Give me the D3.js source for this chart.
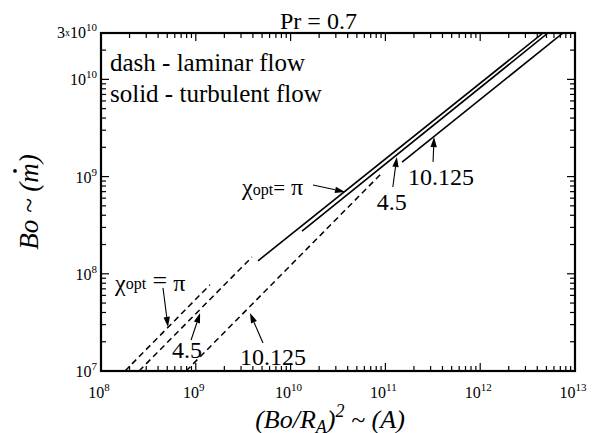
<!DOCTYPE html>
<html>
<head>
<meta charset="utf-8">
<script src="https://cdn.jsdelivr.net/npm/d3@7"></script>
<style>
  body { margin: 0; background: #fff; }
  svg { display: block; }
</style>
</head>
<body>
<div id="chart"></div>
<script>
//svg size
const margin = { top: 33, right: 19, bottom: 62, left: 101 };
const width = 594;
const height = 433;
const innerWidth = width - margin.left - margin.right;
const innerHeight = height - margin.top - margin.bottom;
const FONT = "Liberation Serif";

//laminar (dashed) lines, [A, m] end points
const laminarPi = [[1.79e8, 1e7], [1.41e9, 7.7e7]];
const laminar45 = [[2.52e8, 1e7], [3.92e9, 1.49e8]];
const laminar10 = [[7.9e8, 1e7], [9.2e10, 1.09e9]];

//turbulent (solid) lines
const turbulentPi = [[4.53e9, 1.36e8], [4.6e12, 3e10]];
const turbulent45 = [[1.32e10, 2.75e8], [5.19e12, 3e10]];
const turbulent10 = [[1.5e11, 1.41e9], [7.47e12, 3e10]];

//axis domains and tick labels
const xDomain = [1e8, 1e13];
const yDomain = [1e7, 3e10];
const xTickExp = [8, 9, 10, 11, 12, 13];
const yTickExp = [7, 8, 9, 10];

//arrow tips on the lines
const noteTips = [
  [3.75e10, 6.95e8], //chi top
  [1.32e11, 1.59e9], //4.5 top
  [3.26e11, 2.55e9], //10.125 top
  [5.09e8, 2.84e7], //chi bottom
  [1.11e9, 3.95e7], //4.5 bottom
  [3.73e9, 3.95e7], //10.125 bottom
];
const noteLabels = ["chi", "4.5", "10.125", "chi2", "4.5", "10.125"];

const svg = d3
    .select("#chart")
    .append("svg")
    .attr("width", width)
    .attr("height", height);

const g = svg
    .append("g")
    .attr("transform", `translate(${margin.left},${margin.top})`);

const x = d3.scaleLog().domain(xDomain).range([0, innerWidth]);
const y = d3.scaleLog().domain(yDomain).range([innerHeight, 0]);

//text helper, font set on each element
const addText = (parent, size) =>
  parent.append("text").attr("font-family", FONT).attr("font-size", size).attr("fill", "#000");

//clip for data lines
svg.append("defs")
    .append("clipPath")
    .attr("id", "clip")
    .append("rect")
    .attr("width", innerWidth)
    .attr("height", innerHeight);

const line = d3
    .line()
    .x((d) => x(d[0]))
    .y((d) => y(d[1]));

const gLines = g.append("g").attr("clip-path", "url(#clip)");

gLines
    .selectAll("path.lam")
    .data([laminarPi, laminar45, laminar10])
    .join("path")
    .attr("class", "lam")
    .attr("d", line)
    .attr("fill", "none")
    .attr("stroke", "#000")
    .attr("stroke-width", 1.5)
    .attr("stroke-dasharray", "6,4");

gLines
    .selectAll("path.turb")
    .data([turbulentPi, turbulent45, turbulent10])
    .join("path")
    .attr("class", "turb")
    .attr("d", line)
    .attr("fill", "none")
    .attr("stroke", "#000")
    .attr("stroke-width", 1.6);

//log ticks (major at decades, minor at 2..9)
function logTicks([lo, hi]) {
  const out = [];
  for (let e = Math.floor(Math.log10(lo)); e <= Math.ceil(Math.log10(hi)); e++) {
    for (let k = 1; k < 10; k++) {
      const v = k * Math.pow(10, e);
      if (v >= lo * 0.999 && v <= hi * 1.001) out.push({ v, major: k === 1 });
    }
  }
  return out;
}
const majorLen = 8;
const minorLen = 5;
const tickLen = (d) => (d.major ? majorLen : minorLen);

const gTicks = g.append("g").attr("stroke", "#000").attr("stroke-width", 1.2);
const xt = logTicks(xDomain);
const yt = logTicks(yDomain);

gTicks.selectAll("line.xb").data(xt).join("line").attr("class", "xb")
    .attr("x1", (d) => x(d.v)).attr("x2", (d) => x(d.v))
    .attr("y1", innerHeight).attr("y2", (d) => innerHeight - tickLen(d));
gTicks.selectAll("line.xt").data(xt).join("line").attr("class", "xt")
    .attr("x1", (d) => x(d.v)).attr("x2", (d) => x(d.v))
    .attr("y1", 0).attr("y2", (d) => tickLen(d));
gTicks.selectAll("line.yl").data(yt).join("line").attr("class", "yl")
    .attr("y1", (d) => y(d.v)).attr("y2", (d) => y(d.v))
    .attr("x1", 0).attr("x2", (d) => tickLen(d));
gTicks.selectAll("line.yr").data(yt).join("line").attr("class", "yr")
    .attr("y1", (d) => y(d.v)).attr("y2", (d) => y(d.v))
    .attr("x1", innerWidth).attr("x2", (d) => innerWidth - tickLen(d));

//frame
g.append("rect")
    .attr("width", innerWidth)
    .attr("height", innerHeight)
    .attr("fill", "none")
    .attr("stroke", "#000")
    .attr("stroke-width", 2.2);

//tick labels
xTickExp.forEach((e) => {
  const t = addText(g, 16)
      .attr("x", x(Math.pow(10, e)) - 2)
      .attr("y", innerHeight + 27)
      .attr("text-anchor", "middle");
  t.append("tspan").text("10");
  t.append("tspan").attr("font-size", 11).attr("dy", -7).text(e);
});

yTickExp.forEach((e) => {
  const t = addText(g, 16)
      .attr("x", -4)
      .attr("y", y(Math.pow(10, e)) + 6)
      .attr("text-anchor", "end");
  t.append("tspan").text("10");
  t.append("tspan").attr("font-size", 11).attr("dy", -7).text(e);
});
{
  const t = addText(g, 16)
      .attr("x", -4)
      .attr("y", y(yDomain[1]) + 5)
      .attr("text-anchor", "end");
  t.append("tspan").text("3");
  t.append("tspan").attr("font-size", 10).attr("dy", -2).text("x");
  t.append("tspan").attr("dy", 2).text("10");
  t.append("tspan").attr("font-size", 11).attr("dy", -7).text("10");
}

//title and legend text
addText(svg, 24)
    .attr("x", 280)
    .attr("y", 29)
    .text("Pr = 0.7");

addText(g, 25)
    .attr("x", 9)
    .attr("y", 38)
    .text("dash - laminar flow");
addText(g, 25)
    .attr("x", 9)
    .attr("y", 69)
    .text("solid - turbulent flow");

//axis titles
{
  const t = addText(svg, 26)
      .attr("x", 330)
      .attr("y", 428)
      .attr("text-anchor", "middle")
      .attr("font-style", "italic");
  t.append("tspan").text("(Bo/R");
  t.append("tspan").attr("font-size", 18).attr("dy", 5).text("A");
  t.append("tspan").attr("dy", -5).text(")");
  t.append("tspan").attr("font-size", 18).attr("dy", -11).text("2");
  t.append("tspan").attr("dy", 11).text(" ~ (A)");
}
{
  const gy = svg.append("g").attr("transform", "translate(38,202) rotate(-90)");
  const t = addText(gy, 27)
      .attr("text-anchor", "middle")
      .attr("font-style", "italic")
      .text("Bo ~ (m)");
  const ext = t.node().getExtentOfChar(6);
  gy.append("circle")
      .attr("cx", ext.x + ext.width / 2 + 2)
      .attr("cy", -23)
      .attr("r", 1.9)
      .attr("fill", "#000");
}

//annotations: offsets of arrow tail and label from the tip, in px
const noteLayout = [
  { tail: [-32, -7], text: [-103, 3] },
  { tail: [-4, 30], text: [-20, 53] },
  { tail: [-1, 25], text: [-26, 48] },
  { tail: [-5, -39], text: [-53, -36] },
  { tail: [-9, 27], text: [-28, 45] },
  { tail: [13, 30], text: [-10, 52] },
];

const gNote = g.append("g");
noteTips.forEach((tip, i) => {
  const tx = x(tip[0]);
  const ty = y(tip[1]);
  const lay = noteLayout[i];
  const sx = tx + lay.tail[0];
  const sy = ty + lay.tail[1];

  //arrow
  const dx = tx - sx;
  const dy = ty - sy;
  const len = Math.hypot(dx, dy);
  const ux = dx / len;
  const uy = dy / len;
  const hl = 10;
  const hw = 3.2;
  const bx = tx - ux * hl;
  const by = ty - uy * hl;
  gNote.append("line")
      .attr("x1", sx).attr("y1", sy)
      .attr("x2", bx).attr("y2", by)
      .attr("stroke", "#000")
      .attr("stroke-width", 1.1);
  gNote.append("path")
      .attr("d", `M${tx},${ty}L${bx - uy * hw},${by + ux * hw}L${bx + uy * hw},${by - ux * hw}Z`)
      .attr("fill", "#000");

  //label
  const t = addText(gNote, 24)
      .attr("x", tx + lay.text[0])
      .attr("y", ty + lay.text[1]);
  const lab = noteLabels[i];
  if (lab === "chi" || lab === "chi2") {
    t.append("tspan").text("χ");
    t.append("tspan").attr("font-size", 16).attr("dy", lab === "chi2" ? -2 : 0).text("opt");
    t.append("tspan").attr("font-size", lab === "chi2" ? 26 : 21).text(lab === "chi2" ? " =" : "=");
    t.append("tspan").attr("dy", lab === "chi2" ? 2 : 0).text(" π");
  } else {
    t.text(lab);
  }
});
</script>
</body>
</html>
